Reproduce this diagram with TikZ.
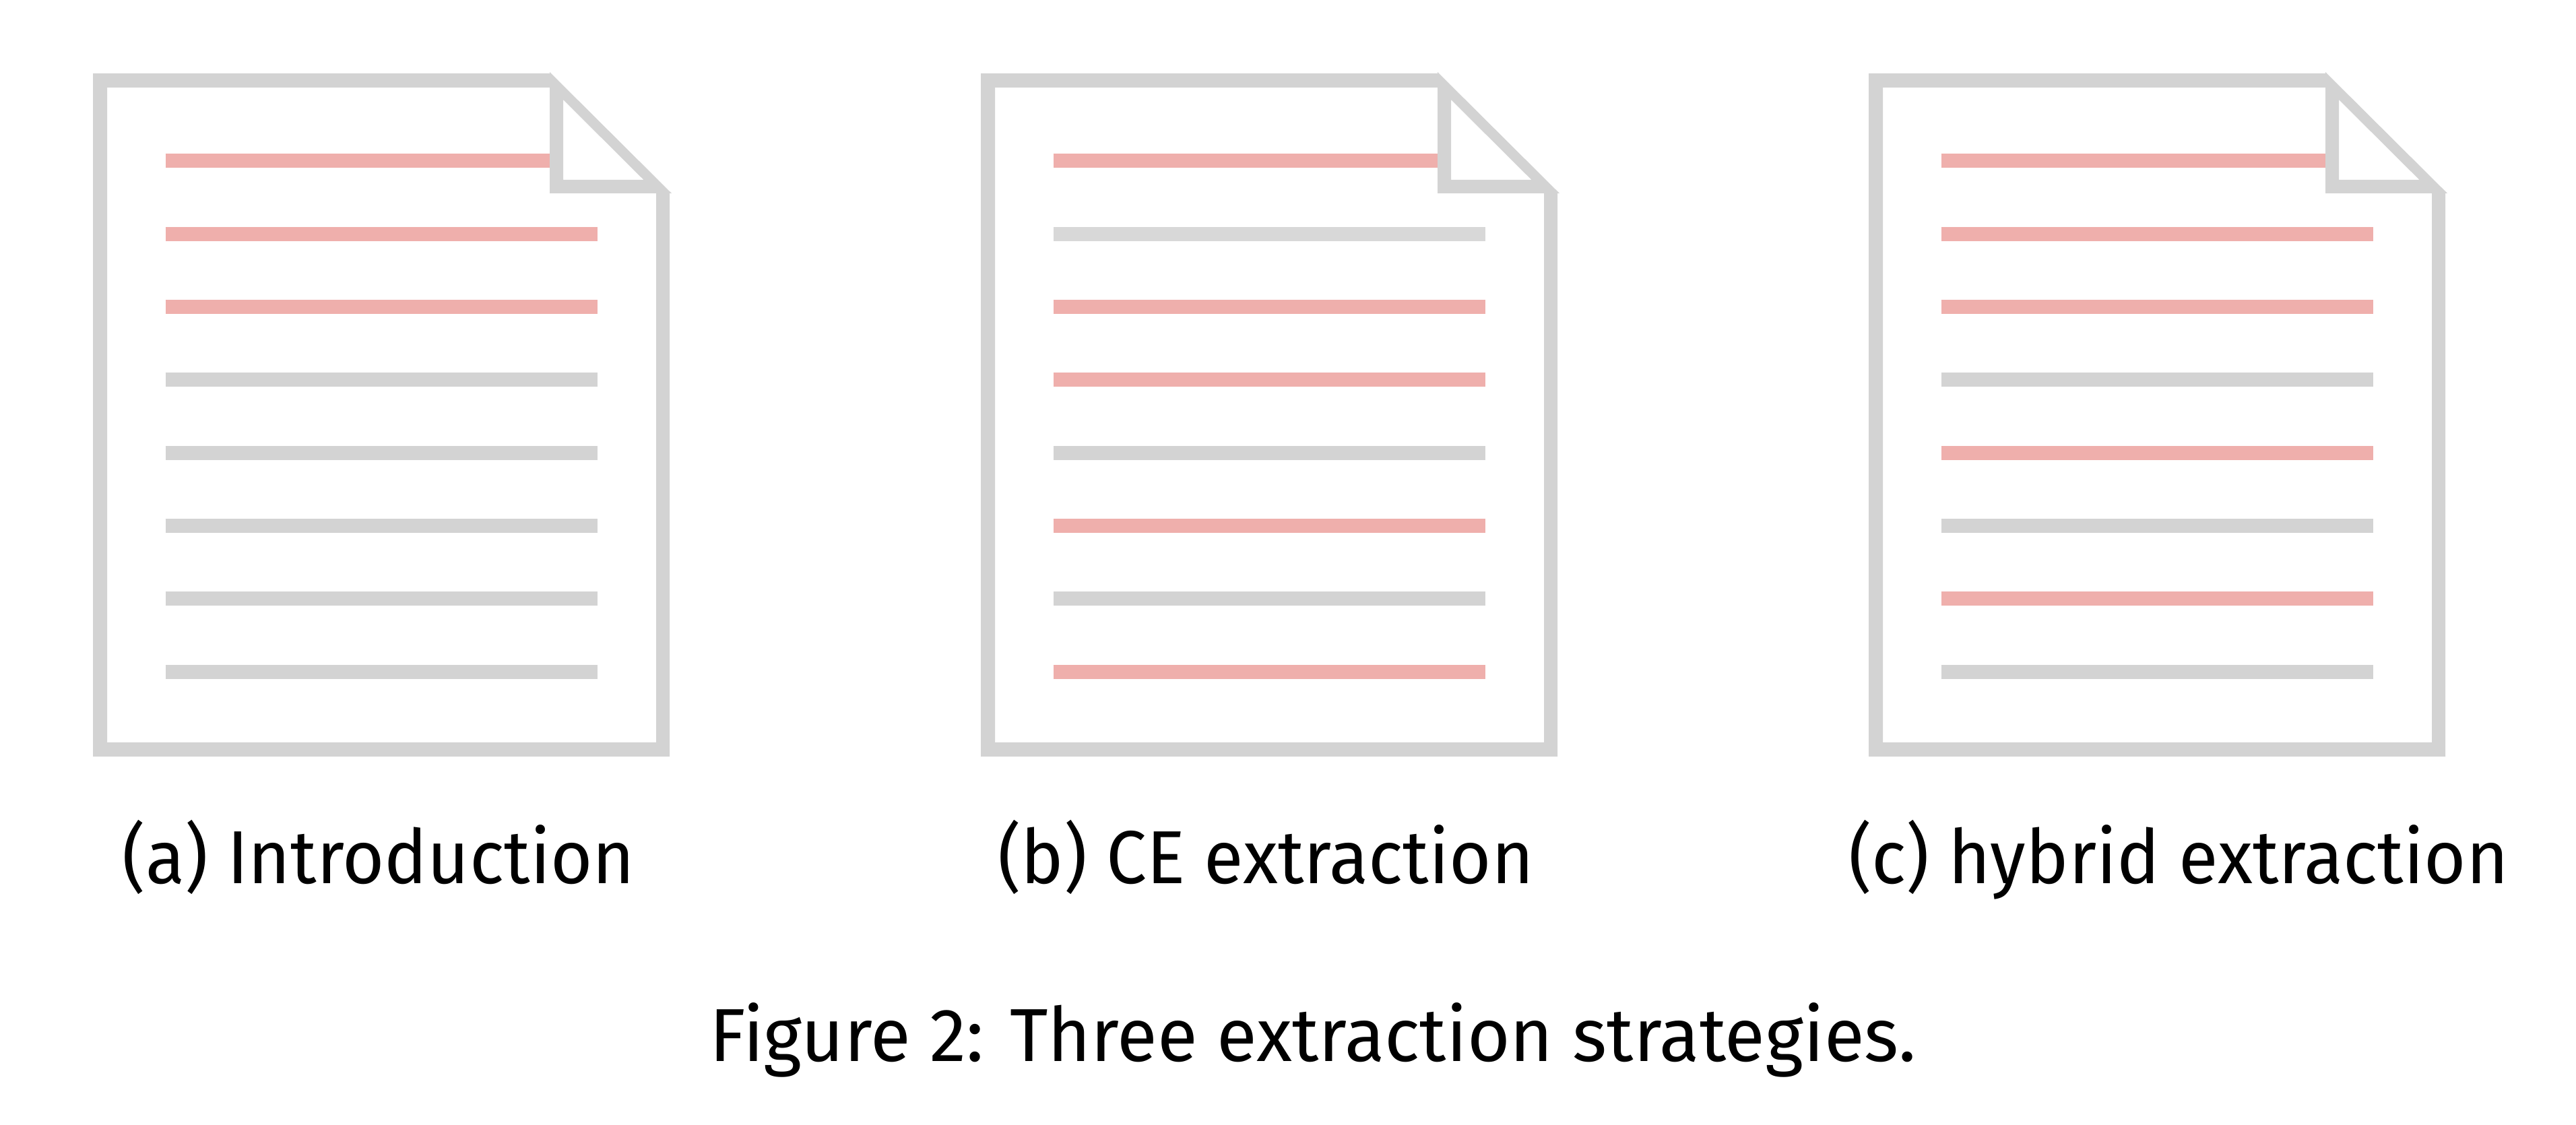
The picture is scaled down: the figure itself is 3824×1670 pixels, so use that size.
\documentclass[tikz,border=0pt]{standalone}
\usepackage{fontspec}
\setmainfont{Fira Sans}
\newfontfamily\subcapfont[FakeStretch=0.96]{Fira Sans}
\newfontfamily\figcapfont[FakeStretch=0.98]{Fira Sans}
\usepackage{xcolor}
\definecolor{framecol}{RGB}{211,211,211}
\definecolor{hitcol}{RGB}{239,175,172}
\definecolor{misscol}{RGB}{211,211,211}
\definecolor{softcol}{RGB}{216,216,216}
\tikzset{
  % page outline, filled between outer and inner contour
  pageframe/.style={fill=framecol, even odd rule},
  % one text line of a page
  textline/.style={line width=2.1mm, #1},
  % captions under the pages and under the figure
  subcap/.style={anchor=base, inner sep=0pt, font=\subcapfont\fontsize{31.7pt}{38pt}\selectfont},
  figcap/.style={anchor=base, inner sep=0pt, font=\figcapfont\fontsize{31.7pt}{38pt}\selectfont},
}

\begin{document}
\begin{tikzpicture}[x=0.01cm, y=-0.01cm]
  \useasboundingbox (0,0) rectangle (3824,1670);
  \foreach \dx/\cx/\name/\txt/\rows in {
    0/562/a/{(a) Introduction}/{hitcol,hitcol,hitcol,misscol,misscol,misscol,misscol,misscol},
    1318/1879/b/{(b) CE extraction}/{hitcol,softcol,hitcol,hitcol,misscol,hitcol,misscol,hitcol},
    2636/3234/c/{(c) hybrid extraction}/{hitcol,hitcol,hitcol,misscol,hitcol,misscol,hitcol,misscol}} {
    \begin{scope}[xshift=\dx*0.01cm]
      % text lines
      \foreach \col [count=\i from 0] in \rows {
        \draw[textline=\col] (245.5,238.8+108.35*\i) -- (887,238.8+108.35*\i);
      }
      % corner stays clear of the text lines
      \fill[white] (816,107) -- (997,287) -- (816,287) -- cycle;
      % outer contour, page interior, folded triangle
      \fill[pageframe]
        (138,109) -- (816,109) -- (816,107) -- (997,287) -- (994,287) -- (994,1123) -- (138,1123) -- cycle
        (159,130) -- (816,130) -- (816,287) -- (974,287) -- (974,1102) -- (159,1102) -- cycle
        (836,148) -- (955.5,267) -- (836,267) -- cycle;
    \end{scope}
    \node[subcap] (cap\name) at (\cx,1311) {\txt};
  }
  \node[figcap] (figcap) at (1949,1575) {Figure 2: Three extraction strategies.};
\end{tikzpicture}
\end{document}
